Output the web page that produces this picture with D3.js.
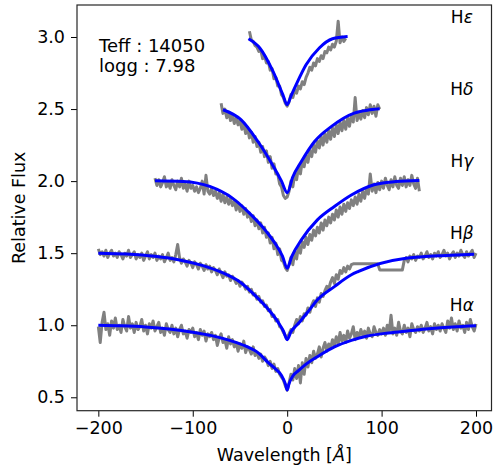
<!DOCTYPE html>
<html>
<head>
<meta charset="utf-8">
<script src="https://cdn.jsdelivr.net/npm/d3@7"></script>
<style>
  html, body { margin: 0; padding: 0; background: #fff; }
  svg { display: block; font-family: "DejaVu Sans", sans-serif; }
</style>
</head>
<body>
<svg id="chart" width="494" height="473"></svg>
<script>
// ---------------- data ----------------
const xTicks = [-200, -100, 0, 100, 200];
const yTicks = [0.5, 1.0, 1.5, 2.0, 2.5, 3.0];
const lineNames = ["α", "β", "γ", "δ", "ε"];
const offsets = [0.0, 0.5, 1.0, 1.5, 2.0];
const paramLines = ["Teff : 14050", "logg : 7.98"];

// observed spectra (grey), sampled every 2 Å
const obsWaveA = d3.range(-200, 200.1, 2);
const obsFluxA = [
  0.99,0.88,1.02,1.09,0.97,1.01,0.93,1.03,0.98,1.05,
  0.97,1.00,0.95,1.04,0.99,0.96,1.06,0.98,1.01,0.95,
  1.02,0.97,0.99,1.04,0.96,1.00,0.94,1.01,0.98,1.03,
  0.96,0.99,1.02,0.95,0.98,0.93,1.01,0.97,0.95,1.00,
  0.94,0.98,0.92,0.97,1.00,0.94,0.96,0.91,0.97,0.95,
  0.98,0.92,0.95,0.90,0.97,0.93,0.96,0.89,0.94,0.92,
  0.95,0.90,0.93,0.86,0.91,0.94,0.88,0.90,0.84,0.92,
  0.87,0.90,0.85,0.88,0.82,0.87,0.84,0.89,0.81,0.85,
  0.83,0.80,0.85,0.79,0.81,0.77,0.80,0.75,0.78,0.76,
  0.72,0.75,0.70,0.73,0.68,0.70,0.66,0.64,0.62,0.58,
  0.55,
  0.60,0.66,0.62,0.70,0.63,0.72,0.60,0.74,0.66,0.77,
  0.71,0.79,0.74,0.82,0.77,0.80,0.85,0.78,0.84,0.88,
  0.82,0.87,0.84,0.90,0.86,0.92,0.87,0.95,0.89,0.93,
  0.88,0.96,0.91,0.94,0.99,0.90,0.95,0.92,0.97,0.93,
  0.96,0.91,0.98,0.94,0.92,0.99,0.95,0.93,0.97,0.94,
  0.98,0.93,1.00,0.95,1.07,0.94,0.98,0.93,1.02,0.96,
  0.94,1.00,0.95,0.98,0.92,1.01,0.97,0.95,0.99,0.96,
  1.00,0.95,0.98,1.02,0.96,0.99,0.94,1.01,0.97,1.00,
  0.96,1.01,0.98,0.95,1.03,0.98,1.05,0.97,1.01,0.96,
  1.03,0.98,1.00,0.95,1.02,0.97,1.04,0.99,0.96,1.01];

const obsWaveB = d3.range(-200, 200.1, 2);
const obsFluxB = [
  1.53,1.49,1.51,1.48,1.52,1.47,1.50,1.52,1.48,1.50,
  1.47,1.51,1.49,1.46,1.50,1.48,1.52,1.47,1.49,1.51,
  1.46,1.49,1.47,1.50,1.45,1.48,1.51,1.46,1.49,1.47,
  1.50,1.45,1.48,1.46,1.49,1.44,1.47,1.50,1.45,1.47,
  1.44,1.49,1.56,1.47,1.43,1.46,1.44,1.41,1.45,1.43,
  1.40,1.44,1.42,1.39,1.43,1.41,1.38,1.42,1.39,1.41,
  1.37,1.40,1.38,1.35,1.39,1.36,1.33,1.37,1.34,1.35,
  1.31,1.34,1.32,1.29,1.31,1.27,1.30,1.28,1.25,1.27,
  1.23,1.25,1.21,1.22,1.18,1.20,1.16,1.17,1.13,1.14,
  1.10,1.11,1.06,1.07,1.03,1.04,0.99,0.98,0.95,0.93,
  0.91,
  0.94,0.97,0.95,1.00,1.04,1.01,1.06,1.03,1.08,1.07,
  1.12,1.09,1.14,1.17,1.13,1.19,1.16,1.22,1.20,1.24,
  1.27,1.25,1.30,1.33,1.29,1.35,1.32,1.38,1.36,1.40,
  1.37,1.41,1.39,1.42,1.426,1.426,1.426,1.426,1.426,1.426,
  1.426,1.426,1.426,1.426,1.426,1.426,1.426,1.426,1.384,1.384,
  1.384,1.384,1.384,1.384,1.384,1.384,1.384,1.384,1.384,1.384,
  1.384,1.45,1.47,1.44,1.48,1.46,1.49,1.45,1.48,1.47,
  1.50,1.46,1.48,1.51,1.47,1.49,1.46,1.50,1.48,1.51,
  1.47,1.49,1.52,1.48,1.50,1.46,1.49,1.51,1.47,1.50,
  1.48,1.52,1.49,1.47,1.51,1.48,1.50,1.52,1.47,1.50];

const obsWaveG = d3.range(-140, 140.1, 2);
const obsFluxG = [
  2.02,1.97,2.01,1.96,1.99,2.03,1.96,1.99,1.95,2.01,
  1.97,1.94,2.00,1.96,2.02,1.95,1.98,1.93,2.00,1.95,
  1.97,1.93,1.96,1.92,1.95,2.00,1.91,2.04,1.93,1.91,
  1.95,1.90,1.93,1.88,1.92,1.86,1.91,1.85,1.89,1.84,
  1.88,1.83,1.86,1.80,1.85,1.79,1.83,1.77,1.81,1.75,
  1.78,1.72,1.76,1.69,1.73,1.67,1.71,1.64,1.68,1.61,
  1.64,1.57,1.61,1.53,1.57,1.49,1.53,1.45,1.44,1.40,
  1.38,
  1.42,1.47,1.42,1.51,1.46,1.55,1.50,1.58,1.54,1.61,
  1.56,1.63,1.59,1.66,1.62,1.68,1.64,1.71,1.66,1.73,
  1.69,1.75,1.71,1.77,1.73,1.80,1.75,1.82,1.77,1.84,
  1.79,1.85,1.81,1.87,1.83,1.89,1.84,1.91,1.86,1.93,
  1.88,1.95,1.91,2.05,1.93,1.98,1.92,1.99,1.94,2.00,
  1.95,2.02,1.97,1.94,2.01,1.96,2.03,1.97,1.95,2.02,
  1.97,2.03,1.96,2.01,1.97,2.04,1.98,1.95,2.02,1.93];

const obsWaveD = d3.range(-70, 98.1, 2);
const obsFluxD = [
  2.54,2.47,2.50,2.44,2.48,2.42,2.46,2.40,2.44,2.39,
  2.42,2.36,2.40,2.33,2.37,2.30,2.34,2.27,2.31,2.24,
  2.27,2.20,2.24,2.17,2.21,2.13,2.17,2.09,2.12,2.05,
  2.05,1.98,1.96,1.90,1.88,
  1.89,
  1.93,2.00,1.96,2.05,2.01,2.10,2.05,2.14,2.10,2.18,
  2.13,2.21,2.17,2.25,2.20,2.28,2.23,2.31,2.25,2.33,
  2.27,2.35,2.29,2.37,2.31,2.39,2.33,2.41,2.35,2.42,
  2.36,2.44,2.38,2.46,2.41,2.58,2.42,2.47,2.43,2.49,
  2.44,2.51,2.46,2.53,2.47,2.52,2.45,2.53,2.50];

const obsWaveE = d3.range(-40, 62.1, 2);
const obsFluxE = [
  3.04,2.98,2.97,2.94,2.93,2.90,2.91,2.85,2.87,2.82,
  2.83,2.77,2.78,2.71,2.72,2.66,2.66,2.60,2.58,2.54,
  2.52,
  2.55,2.60,2.58,2.63,2.61,2.66,2.64,2.69,2.67,2.72,
  2.75,2.79,2.77,2.82,2.80,2.85,2.83,2.87,2.85,2.90,
  2.89,2.93,2.91,2.95,2.93,2.97,3.11,2.96,3.00,2.97,2.99];

// model fits (blue)
const modWaveA = [-200,-175,-150,-125,-100,-80,-60,-45,-30,-20,-12,-6,-2,0,2,6,12,20,32,50,68,85,105,125,150,175,200];
const modFluxA = [1.0,0.996,0.988,0.974,0.952,0.928,0.893,0.858,0.805,0.74,0.695,0.652,0.595,0.55,0.595,0.648,0.685,0.73,0.782,0.85,0.895,0.925,0.945,0.958,0.975,0.988,0.997];

const modWaveB = [-200,-170,-140,-114,-90,-68,-50,-33,-20,-10,-4,0,4,10,15,24,32,50,68,75,126,140,160,180,198];
const modFluxB = [1.5,1.494,1.478,1.453,1.415,1.363,1.3,1.2,1.11,1.025,0.96,0.9,0.955,1.0,1.037,1.11,1.176,1.268,1.35,1.372,1.465,1.473,1.482,1.488,1.492];

const modWaveG = [-140,-110,-82,-58,-40,-22,-12,-5,0,5,15,32,50,68,92,115,140];
const modFluxG = [2.003,1.998,1.963,1.882,1.778,1.65,1.56,1.48,1.395,1.48,1.592,1.731,1.824,1.904,1.975,1.997,2.005];

const modWaveD = [-68,-49,-31,-13.5,-6,0,6,15,29,47,71,85,98];
const modFluxD = [2.495,2.426,2.275,2.09,2.0,1.92,2.03,2.136,2.275,2.38,2.472,2.492,2.502];

const modWaveE = [-41,-29,-15,-4.6,0,4,9.5,20,34,48,64];
const modFluxE = [2.988,2.924,2.761,2.6,2.53,2.59,2.669,2.807,2.924,2.988,3.004];

const labelWave = 185;
const labelFlux = [1.1, 1.6, 2.1, 2.6, 3.1];

// ---------------- drawing ----------------
const svg = d3.select("#chart");
const mLeft = 77, mRight = 491.5, mTop = 5, mBottom = 410.7;
const x = d3.scaleLinear().domain([-222.6, 216.4]).range([mLeft, mRight]);
const y = d3.scaleLinear().domain([0.407, 3.222]).range([mBottom, mTop]);

const zip = (w, f) => w.map((d, i) => [d, f[i]]).filter(d => d[1] !== undefined);
const obs = [zip(obsWaveA, obsFluxA), zip(obsWaveB, obsFluxB), zip(obsWaveG, obsFluxG), zip(obsWaveD, obsFluxD), zip(obsWaveE, obsFluxE)];
const mod = [zip(modWaveA, modFluxA), zip(modWaveB, modFluxB), zip(modWaveG, modFluxG), zip(modWaveD, modFluxD), zip(modWaveE, modFluxE)];

const lineObs = d3.line().x(d => x(d[0])).y(d => y(d[1]));
const lineMod = d3.line().x(d => x(d[0])).y(d => y(d[1])).curve(d3.curveMonotoneX);

const plot = svg.append("g");
plot.append("clipPath").attr("id", "clip").append("rect")
  .attr("x", mLeft).attr("y", mTop).attr("width", mRight - mLeft).attr("height", mBottom - mTop);
const g = plot.append("g").attr("clip-path", "url(#clip)");

obs.forEach((s, i) => {
  g.append("path").datum(s).attr("d", lineObs)
    .attr("fill", "none").attr("stroke", "#808080").attr("stroke-width", 3).attr("stroke-linejoin", "round");
  g.append("path").datum(mod[i]).attr("d", lineMod)
    .attr("fill", "none").attr("stroke", "#0000ff").attr("stroke-width", 3).attr("stroke-linejoin", "round");
});

// line labels
lineNames.forEach((n, i) => {
  const t = svg.append("text").attr("x", x(labelWave)).attr("y", y(labelFlux[i]))
    .attr("text-anchor", "middle").attr("font-size", 17).attr("fill", "#000");
  t.append("tspan").text("H");
  t.append("tspan").attr("font-style", "italic").text(n);
});

// parameter text
paramLines.forEach((s, i) => {
  svg.append("text").attr("x", 99).attr("y", 52 + i * 20).attr("font-size", 18).attr("fill", "#000").text(s);
});

// axes
const xAxis = d3.axisBottom(x).tickValues(xTicks).tickSize(6).tickPadding(5)
  .tickFormat(d => d < 0 ? "\u2212" + Math.abs(d) : String(d));
const gx = svg.append("g").attr("transform", `translate(0,${mBottom})`).call(xAxis);
gx.select(".domain").remove();
gx.selectAll("text").attr("font-size", 17.5).attr("font-family", "DejaVu Sans").attr("fill", "#000");
gx.selectAll("line").attr("stroke", "#000");

const yAxis = d3.axisLeft(y).tickValues(yTicks).tickSize(6).tickPadding(6).tickFormat(d3.format(".1f"));
const gy = svg.append("g").attr("transform", `translate(${mLeft},0)`).call(yAxis);
gy.select(".domain").remove();
gy.selectAll("text").attr("font-size", 17.5).attr("font-family", "DejaVu Sans").attr("fill", "#000");
gy.selectAll("line").attr("stroke", "#000");

// frame
svg.append("rect").attr("x", mLeft).attr("y", mTop).attr("width", mRight - mLeft).attr("height", mBottom - mTop)
  .attr("fill", "none").attr("stroke", "#262626").attr("stroke-width", 1.2);

// axis labels
const xl = svg.append("text").attr("x", (mLeft + mRight) / 2).attr("y", 461).attr("text-anchor", "middle")
  .attr("font-size", 17.5).attr("fill", "#000");
xl.append("tspan").text("Wavelength [");
xl.append("tspan").attr("font-style", "italic").text("Å");
xl.append("tspan").text("]");

svg.append("text").attr("transform", `translate(25,${(mTop + mBottom) / 2}) rotate(-90)`)
  .attr("text-anchor", "middle").attr("font-size", 17.5).attr("fill", "#000").text("Relative Flux");
</script>
</body>
</html>
